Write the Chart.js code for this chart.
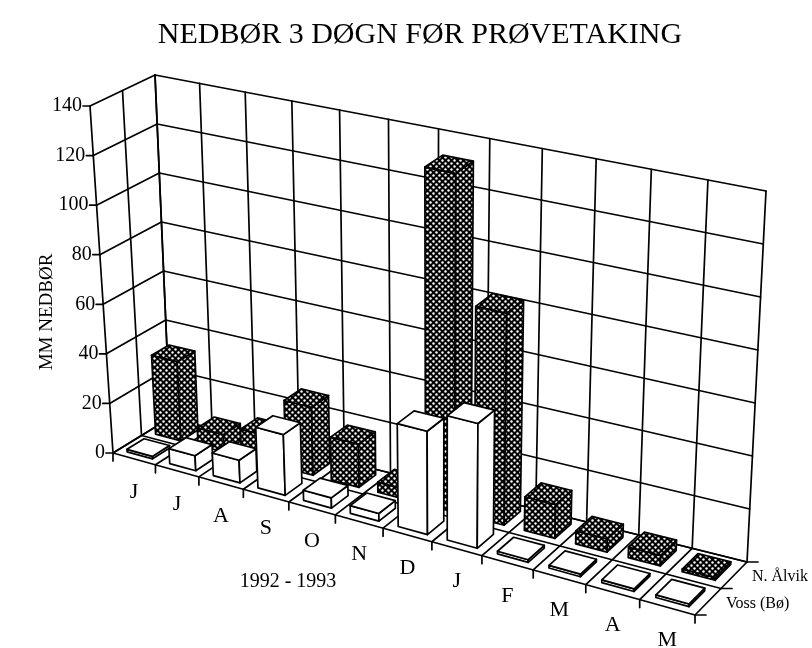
<!DOCTYPE html>
<html>
<head>
<meta charset="utf-8">
<script src="https://cdn.jsdelivr.net/npm/chart.js@4"></script>
<style>
  html, body { margin: 0; padding: 0; background: #fff; }
  canvas { display: block; }
</style>
</head>
<body>
<canvas id="nedbor" width="812" height="648"></canvas>
<script>
// months june 1992 - may 1993
const months = ['J', 'J', 'A', 'S', 'O', 'N', 'D', 'J', 'F', 'M', 'A', 'M'];
// mm rain the 3 days before sampling
const alvik = [32, 7, 11, 27, 17, 4, 132, 82, 13, 5, 4, 1];
const voss = [1, 6, 9, 24, 4, 3, 40, 48, 1, 1, 1, 1];
const yTicks = [0, 20, 40, 60, 80, 100, 120, 140];
const seriesNames = ['N. Ålvik', 'Voss (Bø)'];

// corners of the 3d box on screen (front = Voss row, back = wall behind Ålvik)
const box = {
  f00: [113, 453], f01: [90, 106], f10: [695, 615], f11: [712, 240],
  b00: [170, 418], b01: [155, 75], b10: [747, 562], b11: [766, 191]
};
const persp = 1.155; // cells get wider to the right
const serif = 'Liberation Serif';

function lerp(a, b, t) {
  return [a[0] + (b[0] - a[0]) * t, a[1] + (b[1] - a[1]) * t];
}

// tu, tv: 0..1 along category / value axis, d: 0 front .. 1 back
function proj(tu, d, tv) {
  const w = tu / (persp - (persp - 1) * tu);
  const front = lerp(lerp(box.f00, box.f10, w), lerp(box.f01, box.f11, w), tv);
  const back = lerp(lerp(box.b00, box.b10, w), lerp(box.b01, box.b11, w), tv);
  return lerp(front, back, d);
}

function line(ctx, a, b) {
  ctx.beginPath();
  ctx.moveTo(a[0], a[1]);
  ctx.lineTo(b[0], b[1]);
  ctx.stroke();
}

function face(ctx, pts, fill) {
  ctx.beginPath();
  ctx.moveTo(pts[0][0], pts[0][1]);
  for (let i = 1; i < pts.length; i++) ctx.lineTo(pts[i][0], pts[i][1]);
  ctx.closePath();
  ctx.fillStyle = fill;
  ctx.fill();
  ctx.stroke();
}

function dotPattern(ctx) {
  const c = document.createElement('canvas');
  c.width = 6; c.height = 6;
  const g = c.getContext('2d');
  g.fillStyle = '#000';
  g.fillRect(0, 0, 6, 6);
  g.fillStyle = '#fff';
  g.beginPath(); g.arc(1.5, 1.5, 1.2, 0, Math.PI * 2); g.fill();
  g.beginPath(); g.arc(4.5, 4.5, 1.2, 0, Math.PI * 2); g.fill();
  return ctx.createPattern(c, 'repeat');
}

const box3d = {
  id: 'box3d',
  afterDatasetsDraw(chart) {
    const ctx = chart.ctx;
    const x = chart.scales.x, y = chart.scales.y;
    const n = chart.data.labels.length;
    const cell = x.width / n;
    const tu = px => (px - x.left) / x.width;
    const tv = v => (y.bottom - y.getPixelForValue(v)) / (y.bottom - y.top);
    const edges = [];
    for (let i = 0; i < n; i++) edges.push(tu(x.getPixelForValue(i) - cell / 2));
    edges.push(tu(x.getPixelForValue(n - 1) + cell / 2));

    ctx.save();
    ctx.strokeStyle = '#000';
    ctx.lineWidth = 1.7;
    ctx.lineJoin = 'round';
    ctx.lineCap = 'round';

    // back wall
    yTicks.forEach(v => line(ctx, proj(0, 1, tv(v)), proj(1, 1, tv(v))));
    edges.forEach(e => line(ctx, proj(e, 1, 0), proj(e, 1, 1)));
    // left wall
    yTicks.forEach(v => line(ctx, proj(0, 0, tv(v)), proj(0, 1, tv(v))));
    [0, 0.5, 1].forEach(d => line(ctx, proj(0, d, 0), proj(0, d, 1)));
    // floor
    [0, 0.5, 1].forEach(d => line(ctx, proj(0, d, 0), proj(1, d, 0)));
    edges.forEach(e => line(ctx, proj(e, 0, 0), proj(e, 1, 0)));

    // bars: back row (Ålvik) first, then front row (Voss)
    const rows = [[0.6, 0.9], [0.1, 0.4]];
    const fills = [dotPattern(ctx), '#fff'];
    const half = 0.3 * cell / x.width;
    chart.data.datasets.forEach((ds, k) => {
      const [d0, d1] = rows[k];
      ds.data.forEach((val, i) => {
        const c = tu(x.getPixelForValue(i));
        const u0 = c - half, u1 = c + half, h = tv(val);
        face(ctx, [proj(u0, d0, 0), proj(u1, d0, 0), proj(u1, d0, h), proj(u0, d0, h)], fills[k]);
        face(ctx, [proj(u1, d0, 0), proj(u1, d1, 0), proj(u1, d1, h), proj(u1, d0, h)], fills[k]);
        face(ctx, [proj(u0, d0, h), proj(u1, d0, h), proj(u1, d1, h), proj(u0, d1, h)], fills[k]);
      });
    });

    // ticks
    edges.forEach(e => {
      const p = proj(e, 0, 0);
      line(ctx, p, [p[0], p[1] + 8]);
    });
    [0, 0.5, 1].forEach(d => {
      const p = proj(1, d, 0);
      line(ctx, p, [p[0] + 11, p[1]]);
    });
    yTicks.forEach(v => {
      const p = proj(0, 0, tv(v));
      line(ctx, p, [p[0] - 7, p[1]]);
    });

    // texts
    ctx.fillStyle = '#000';
    ctx.textBaseline = 'middle';
    ctx.font = '20px "' + serif + '"';
    ctx.textAlign = 'right';
    yTicks.forEach(v => {
      const p = proj(0, 0, tv(v));
      ctx.fillText(String(v), p[0] - 8, p[1]);
    });
    ctx.font = '22px "' + serif + '"';
    ctx.textAlign = 'center';
    chart.data.labels.forEach((lab, i) => {
      const p = proj(tu(x.getPixelForValue(i)), 0, 0);
      ctx.fillText(lab, p[0], p[1] + 33);
    });
    ctx.font = '20px "' + serif + '"';
    ctx.fillText('1992 - 1993', 288, 582);

    ctx.font = '16px "' + serif + '"';
    ctx.textAlign = 'left';
    chart.data.datasets.forEach((ds, k) => {
      const p = proj(1, (rows[k][0] + rows[k][1]) / 2, 0);
      ctx.fillText(ds.label, p[0] + 18, p[1] + 2);
    });

    ctx.translate(47, 312);
    ctx.rotate(-Math.PI / 2);
    ctx.textAlign = 'center';
    ctx.font = '19px "' + serif + '"';
    ctx.fillText('MM NEDBØR', 0, 0);
    ctx.restore();
  }
};

new Chart(document.getElementById('nedbor'), {
  type: 'bar',
  data: {
    labels: months,
    datasets: [
      { label: seriesNames[0], data: alvik, backgroundColor: 'rgba(0,0,0,0)', borderWidth: 0 },
      { label: seriesNames[1], data: voss, backgroundColor: 'rgba(0,0,0,0)', borderWidth: 0 }
    ]
  },
  options: {
    responsive: false,
    animation: false,
    events: [],
    layout: { padding: { left: 28 } },
    plugins: {
      legend: { display: false },
      tooltip: { enabled: false },
      title: {
        display: true,
        text: 'NEDBØR 3 DØGN FØR PRØVETAKING',
        color: '#000',
        font: { family: serif, size: 30, weight: 'normal' },
        padding: { top: 17, bottom: 10 }
      }
    },
    scales: {
      x: { display: false, offset: true },
      y: { display: false, min: yTicks[0], max: yTicks[yTicks.length - 1], ticks: { stepSize: 20 } }
    }
  },
  plugins: [box3d]
});
</script>
</body>
</html>
